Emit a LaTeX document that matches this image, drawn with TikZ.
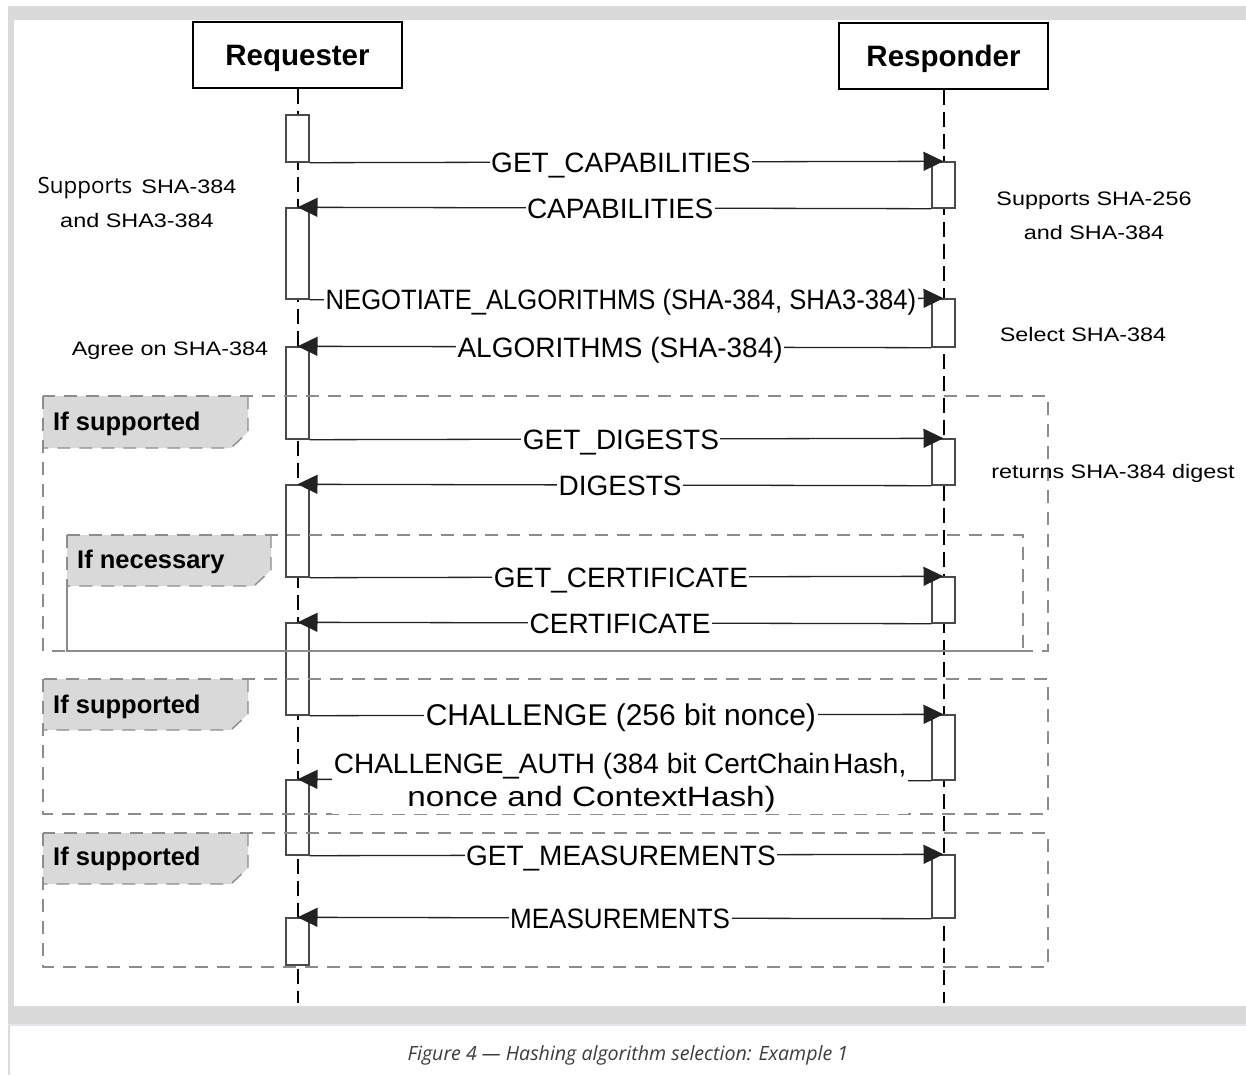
\documentclass[tikz,border=0pt]{standalone}
\usepackage{fontspec}
\setmainfont{Liberation Sans}
\newfontfamily\notefont{Open Sans}
\usetikzlibrary{arrows.meta}

\definecolor{bandgray}{HTML}{DADADA}
\definecolor{rulegray}{HTML}{E3E6EA}
\definecolor{framegray}{HTML}{8C8C8C}
\definecolor{tabgray}{HTML}{D9D9D9}
\definecolor{boxline}{HTML}{4A4A4A}
\definecolor{msgline}{HTML}{222222}
\definecolor{captext}{HTML}{3C3C3C}

\begin{document}
\begin{tikzpicture}[x=1pt,y=-1pt,
  head/.style={draw=black, line width=2.2pt, fill=white, minimum width=209pt,
    minimum height=66pt, inner sep=0pt, text height=21pt, text depth=0pt,
    font=\bfseries\fontsize{29.5}{34}\selectfont},
  lifeline/.style={draw=black, line width=2pt, dash pattern=on 15pt off 7pt},
  act/.style={draw=boxline, line width=1.4pt, fill=white, minimum width=23pt, inner sep=0pt},
  msg/.style={draw=msgline, line width=1.3pt, -{Triangle[length=20pt,width=19pt]}},
  lbl/.style={fill=white, inner sep=1.5pt, pos=0.491, text height=20pt, text depth=0pt,
    font=\fontsize{28}{33}\selectfont},
  note/.style={anchor=base, inner sep=0pt, font=\fontsize{19.5}{24}\selectfont},
  frame/.style={draw=framegray, line width=1.4pt, dash pattern=on 13pt off 9pt},
  solidframe/.style={draw=framegray, line width=1.4pt},
  tablbl/.style={anchor=base west, inner sep=0pt, font=\bfseries\fontsize{25.5}{30}\selectfont},
]
\useasboundingbox (0,0) rectangle (1246,1075);

% page band and white panel
\fill[bandgray] (8,6) rectangle (1246,1024);
\fill[white] (14,20) rectangle (1246,1006);
\fill[rulegray] (8,1024) rectangle (1246,1026);
\fill[bandgray] (8,1026) rectangle (10,1075);

% participants and lifelines
\node[head] (req) at (297.5,55) {Requester};
\node[head] (resp) at (943.5,56) {Responder};
\coordinate (reqend) at (297.5,1003);
\coordinate (respend) at (943.5,1003);
\draw[lifeline] (req.south) -- (reqend);
\draw[lifeline] (resp.south) -- (respend);

% activation bars of the requester
\node[act, minimum height=47pt] (r1) at (297.5,138.5) {};
\node[act, minimum height=91pt] (r2) at (297.5,253.5) {};
\node[act, minimum height=92pt] (r3) at (297.5,393) {};
\node[act, minimum height=92pt] (r4) at (297.5,531) {};
\node[act, minimum height=92pt] (r5) at (297.5,669) {};
\node[act, minimum height=75pt] (r6) at (297.5,817.5) {};
\node[act, minimum height=47pt] (r7) at (297.5,941.5) {};
% activation bars of the responder
\node[act, minimum height=46pt] (s1) at (943.5,185) {};
\node[act, minimum height=48pt] (s2) at (943.5,323) {};
\node[act, minimum height=46pt] (s3) at (943.5,462) {};
\node[act, minimum height=46pt] (s4) at (943.5,600) {};
\node[act, minimum height=65pt] (s5) at (943.5,747.5) {};
\node[act, minimum height=63pt] (s6) at (943.5,886.5) {};

% combined fragments: tab fills
\fill[tabgray] (43,396) -- (248,396) -- (248,432) -- (231,448) -- (43,448) -- cycle;
\fill[tabgray] (67,535) -- (271,535) -- (271,570) -- (254,586) -- (67,586) -- cycle;
\fill[tabgray] (43,679) -- (248,679) -- (248,714) -- (231,730) -- (43,730) -- cycle;
\fill[tabgray] (43,833) -- (248,833) -- (248,868) -- (231,884) -- (43,884) -- cycle;
% combined fragments: outlines
\draw[frame] (43,396) rectangle (1048,651);
\draw[frame] (248,396) -- (248,432) -- (231,448) -- (43,448);
\draw[frame] (67,535) -- (1023,535) -- (1023,651);
\draw[frame] (67,535) -- (67,586);
\draw[solidframe] (67,586) -- (67,651) -- (1023,651);
\draw[frame] (271,535) -- (271,570) -- (254,586) -- (67,586);
\draw[frame] (43,679) rectangle (1048,814);
\draw[frame] (248,679) -- (248,714) -- (231,730) -- (43,730);
\draw[frame] (43,833) rectangle (1048,967);
\draw[frame] (248,833) -- (248,868) -- (231,884) -- (43,884);
\node[tablbl] (opt1) at (53,430) {If supported};
\node[tablbl] (opt2) at (77,568) {If necessary};
\node[tablbl] (opt3) at (53,713) {If supported};
\node[tablbl] (opt4) at (53,865) {If supported};

% messages
\draw[msg] (r1.south east) -- (s1.north) node[lbl] (m1) {GET\_CAPABILITIES};
\draw[msg] (s1.south west) -- (r2.north) node[lbl] (m2) {CAPABILITIES};
\draw[msg] (r2.south east) -- (s2.north) node[lbl] (m3)
  {\scalebox{0.915}[1]{NEGOTIATE\_ALGORITHMS (SHA-384, SHA3-384)}};
\draw[msg] (s2.south west) -- (r3.north) node[lbl] (m4) {ALGORITHMS (SHA-384)};
\draw[msg] (r3.south east) -- (s3.north) node[lbl] (m5) {GET\_DIGESTS};
\draw[msg] (s3.south west) -- (r4.north) node[lbl] (m6) {DIGESTS};
\draw[msg] (r4.south east) -- (s4.north) node[lbl] (m7) {GET\_CERTIFICATE};
\draw[msg] (s4.south west) -- (r5.north) node[lbl] (m8) {CERTIFICATE};
\draw[msg] (r5.south east) -- (s5.north) node[lbl, text height=21.5pt,
  font=\fontsize{30}{35}\selectfont] (m9) {CHALLENGE (256 bit nonce)};
\draw[msg] (s5.south west) -- (r6.north) node[lbl, text height=, text depth=,
  align=center, yshift=-2.5pt] (m10)
  {CHALLENGE\_AUTH (384 bit CertChain\kern3pt Hash,\\
   \scalebox{1.19}[1]{nonce and ContextHash)}\hspace*{57pt}};
\draw[msg] (r6.south east) -- (s6.north) node[lbl] (m11) {GET\_MEASUREMENTS};
\draw[msg] (s6.south west) -- (r7.north) node[lbl] (m12)
  {\scalebox{0.93}[1]{MEASUREMENTS}};

% side notes
\node[note] (na1) at (137,194)
  {{\notefont\fontsize{22.4}{27}\selectfont Supports}\hspace{9pt}\scalebox{1.2}[1]{SHA-384}};
\node[note] (na2) at (137,228) {\scalebox{1.2}[1]{and SHA3-384}};
\node[note] (nb1) at (1094,206) {\scalebox{1.2}[1]{Supports SHA-256}};
\node[note] (nb2) at (1094,240) {\scalebox{1.2}[1]{and SHA-384}};
\node[note] (nc) at (1083,341) {\scalebox{1.2}[1]{Select SHA-384}};
\node[note] (nd) at (170,355) {\scalebox{1.2}[1]{Agree on SHA-384}};
\node[note] (ne) at (1113,478) {\scalebox{1.2}[1]{returns SHA-384 digest}};

% caption
\node[font=\notefont\itshape\fontsize{19.6}{24}\selectfont, text=captext] (caption)
  at (628,1055) {Figure 4 — Hashing algorithm selection: Example 1};
\end{tikzpicture}
\end{document}
